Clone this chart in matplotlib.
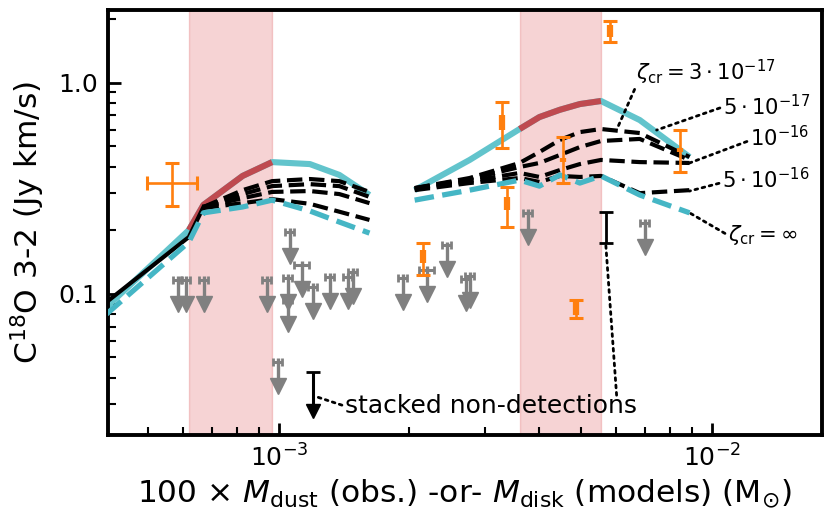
import matplotlib.pyplot as plt
import numpy as np
from matplotlib.ticker import NullFormatter

# ---- models, low-mass set (M_disk in Msun, flux in Jy km/s)
m_left = [4.0e-4, 6.2e-4, 6.7e-4, 8.25e-4, 9.65e-4, 1.18e-3, 1.38e-3, 1.62e-3]
cyan_left = [0.0866, 0.2006, 0.264, 0.362, 0.421, 0.412, 0.366, 0.294]
inf_left = [0.0802, 0.176, 0.242, 0.258, 0.278, 0.247, 0.219, 0.194]
m_left_low = [4.0e-4, 6.2e-4, 6.7e-4]
black_left_low = [0.0914, 0.186, 0.258]
m_left_zeta = [6.7e-4, 8.25e-4, 9.65e-4, 1.18e-3, 1.38e-3, 1.62e-3]
z3e17_left = [0.258, 0.310, 0.342, 0.350, 0.342, 0.304]
z5e17_left = [0.258, 0.297, 0.324, 0.331, 0.324, 0.288]
z1e16_left = [0.258, 0.284, 0.304, 0.307, 0.297, 0.269]
z5e16_left = [0.255, 0.269, 0.281, 0.267, 0.245, 0.224]

# ---- models, high-mass set
m_right = [2.06e-3, 2.76e-3, 3.6e-3, 4.0e-3, 4.46e-3, 4.96e-3, 5.55e-3, 6.82e-3, 8.89e-3]
cyan_right = [0.310, 0.431, 0.604, 0.688, 0.745, 0.793, 0.820, 0.666, 0.445]
inf_right = [0.278, 0.310, 0.346, 0.324, 0.366, 0.335, 0.362, 0.294, 0.242]
z3e17_right = [0.317, 0.354, 0.417, 0.470, 0.536, 0.584, 0.604, 0.578, 0.445]
z5e17_right = [0.317, 0.350, 0.399, 0.417, 0.455, 0.496, 0.530, 0.542, 0.431]
z1e16_right = [0.314, 0.342, 0.374, 0.358, 0.386, 0.412, 0.431, 0.421, 0.417]
z5e16_right = [0.310, 0.335, 0.354, 0.339, 0.362, 0.358, 0.362, 0.300, 0.310]

band_left = (6.2e-4, 9.65e-4)
band_right = (3.6e-3, 5.55e-3)

# ---- detections (orange)
det_x = [5.81e-3, 3.27e-3, 3.36e-3, 4.53e-3, 8.44e-3, 4.85e-3, 2.15e-3]
det_y = [1.78, 0.645, 0.264, 0.431, 0.480, 0.0857, 0.1478]
det_lo = [1.561, 0.491, 0.207, 0.335, 0.378, 0.0768, 0.1228]
det_hi = [1.963, 0.811, 0.321, 0.553, 0.597, 0.0935, 0.174]
det_in_lo = [1.648, 0.597, 0.2495, 0.42, 0.47, 0.0793, 0.140]
det_in_hi = [1.879, 0.704, 0.288, 0.44, 0.49, 0.0914, 0.161]
# detection with dust-mass error
cross_x, cross_y = 5.66e-4, 0.335
cross_xerr = [[0.70e-4], [0.80e-4]]
cross_yerr = [[0.075], [0.082]]

# ---- upper limits (gray)
ul_x = [5.84e-4, 6.10e-4, 6.71e-4, 9.38e-4, 1.060e-3, 1.049e-3, 1.049e-3, 1.130e-3,
        1.198e-3, 1.312e-3, 1.443e-3, 1.482e-3, 9.95e-4, 1.933e-3, 2.197e-3,
        2.443e-3, 2.761e-3, 2.70e-3, 3.759e-3, 7.0e-3]
ul_y = [0.1162, 0.1162, 0.1162, 0.1162, 0.1963, 0.1188, 0.0935, 0.137,
        0.1077, 0.1202, 0.1202, 0.1268, 0.0475, 0.1188, 0.1297,
        0.170, 0.1215, 0.1175, 0.242, 0.217]
ul_xfrac = [0.024, 0.024, 0.024, 0.024, 0.024, 0.024, 0.024, 0.038,
            0.024, 0.024, 0.024, 0.024, 0.024, 0.024, 0.038,
            0.024, 0.024, 0.024, 0.024, 0.024]

# ---- stacked
stack_det_x, stack_det_y, stack_det_lo, stack_det_hi = 5.69e-3, 0.205, 0.174, 0.244
stack_ul_x, stack_ul_y = 1.198e-3, 0.0426

cyan = '#62c4cc'
cyan_d = '#45b6c5'
red = '#bf4a50'
orange = '#ff7f0e'

fig = plt.figure(figsize=(8.3, 5.32), dpi=100)
ax = fig.add_axes([0.130, 0.182, 0.860, 0.799])
ax.set_xscale('log')
ax.set_yscale('log')

for b in (band_left, band_right):
    ax.axvspan(b[0], b[1], color='tab:red', alpha=0.2, lw=1, zorder=0)

for m, c, band in ((m_left, cyan_left, band_left), (m_right, cyan_right, band_right)):
    m = np.array(m)
    c = np.array(c)
    ax.plot(m, c, color=cyan, lw=4.4, solid_capstyle='butt', zorder=2)
    sel = (m >= band[0] * 0.999) & (m <= band[1] * 1.001)
    ax.plot(m[sel], c[sel], color=red, lw=4.4, solid_capstyle='butt', zorder=2.1)

ax.plot(m_left_low, black_left_low, color='k', lw=3, zorder=3)
for z in (z3e17_left, z5e17_left, z1e16_left, z5e16_left):
    ax.plot(m_left_zeta, z, color='k', lw=3, ls='--', zorder=3)
for z in (z3e17_right, z5e17_right, z1e16_right, z5e16_right):
    ax.plot(m_right, z, color='k', lw=3, ls='--', zorder=3)
ax.plot(m_left, inf_left, color=cyan_d, lw=3.8, ls='--', zorder=3.1)
ax.plot(m_right, inf_right, color=cyan_d, lw=3.8, ls='--', zorder=3.1)

# upper limits
ul_x = np.array(ul_x)
ul_y = np.array(ul_y)
ax.errorbar(ul_x, ul_y, xerr=ul_x * np.array(ul_xfrac), fmt='none', ecolor='gray',
            elinewidth=2.2, capsize=2.8, capthick=2, zorder=4)
ax.vlines(ul_x, ul_y * 0.78, ul_y * 1.04, color='gray', lw=2.4, zorder=4)
ax.plot(ul_x, ul_y * 0.77, 'v', color='gray', ms=11, zorder=4)

# detections
det_y = np.array(det_y)
yerr = [det_y - np.array(det_lo), np.array(det_hi) - det_y]
ax.errorbar(det_x, det_y, yerr=yerr, fmt='none', ecolor=orange, elinewidth=1.9,
            capsize=5, capthick=2.2, zorder=5)
ax.vlines(det_x, det_in_lo, det_in_hi, color=orange, lw=4.5, zorder=5)
ax.errorbar([cross_x], [cross_y], xerr=cross_xerr, yerr=cross_yerr, fmt='none',
            ecolor=orange, elinewidth=1.9, capsize=5, capthick=2.2, zorder=5)

# stacked
ax.errorbar([stack_det_x], [stack_det_y],
            yerr=[[stack_det_y - stack_det_lo], [stack_det_hi - stack_det_y]],
            fmt='none', ecolor='k', elinewidth=2, capsize=5, capthick=2, zorder=5)
ax.vlines([stack_ul_x], [stack_ul_y * 0.66], [stack_ul_y], color='k', lw=2.2, zorder=5)
ax.plot([stack_ul_x], [stack_ul_y], '_', color='k', ms=10, mew=2, zorder=5)
ax.plot([stack_ul_x], [stack_ul_y * 0.653], 'v', color='k', ms=10, zorder=5)

lead = dict(arrowstyle='-', ls=':', lw=2, color='k', shrinkA=0, shrinkB=0)
fs = 15.2
ax.annotate(r'$\zeta_{\rm cr} = 3\cdot10^{-17}$', xy=(6.07e-3, 0.617), xytext=(6.68e-3, 1.125),
            fontsize=fs, va='center', ha='left', arrowprops=dict(lead, relpos=(0, 0)))
ax.annotate(r'$5\cdot10^{-17}$', xy=(7.46e-3, 0.597), xytext=(1.06e-2, 0.768),
            fontsize=fs, va='center', ha='left', arrowprops=dict(lead, relpos=(0, 0.5)))
ax.annotate(r'$10^{-16}$', xy=(8.89e-3, 0.417), xytext=(1.224e-2, 0.548),
            fontsize=fs, va='center', ha='left', arrowprops=dict(lead, relpos=(0, 0.4)))
ax.annotate(r'$5\cdot10^{-16}$', xy=(8.89e-3, 0.307), xytext=(1.055e-2, 0.346),
            fontsize=fs, va='center', ha='left', arrowprops=dict(lead, relpos=(0, 0.4)))
ax.annotate(r'$\zeta_{\rm cr} = \infty$', xy=(8.89e-3, 0.242), xytext=(1.089e-2, 0.190),
            fontsize=fs, va='center', ha='left', arrowprops=dict(lead, relpos=(0, 0.5)))
ax.annotate('stacked non-detections', xy=(1.23e-3, 0.0324), xytext=(1.42e-3, 0.0294),
            fontsize=18, va='center', ha='left', arrowprops=dict(lead, relpos=(0, 0.5)))
ax.annotate('', xy=(5.69e-3, 0.174), xytext=(6.03e-3, 0.0331), arrowprops=lead)

ax.set_xlim(4.03e-4, 1.795e-2)
ax.set_ylim(0.0214, 2.21)
ax.set_yticks([0.1, 1.0], ['0.1', '1.0'])
ax.yaxis.set_minor_formatter(NullFormatter())
ax.xaxis.set_minor_formatter(NullFormatter())

for s in ax.spines.values():
    s.set_linewidth(2.8)
ax.tick_params(which='both', direction='in', top=False, right=False, labelsize=18, pad=7)
ax.tick_params(which='major', length=9, width=2)
ax.tick_params(which='minor', length=6, width=1.5)

ax.set_xlabel(r'100 $\times$ $M_{\rm dust}$ (obs.) -or- $M_{\rm disk}$ (models) (M$_{\odot}$)',
              fontsize=22.5, labelpad=4)
ax.set_ylabel(r'C$^{18}$O 3-2 (Jy km/s)', fontsize=22.5, labelpad=8)

fig.savefig('out.png', dpi=100)
